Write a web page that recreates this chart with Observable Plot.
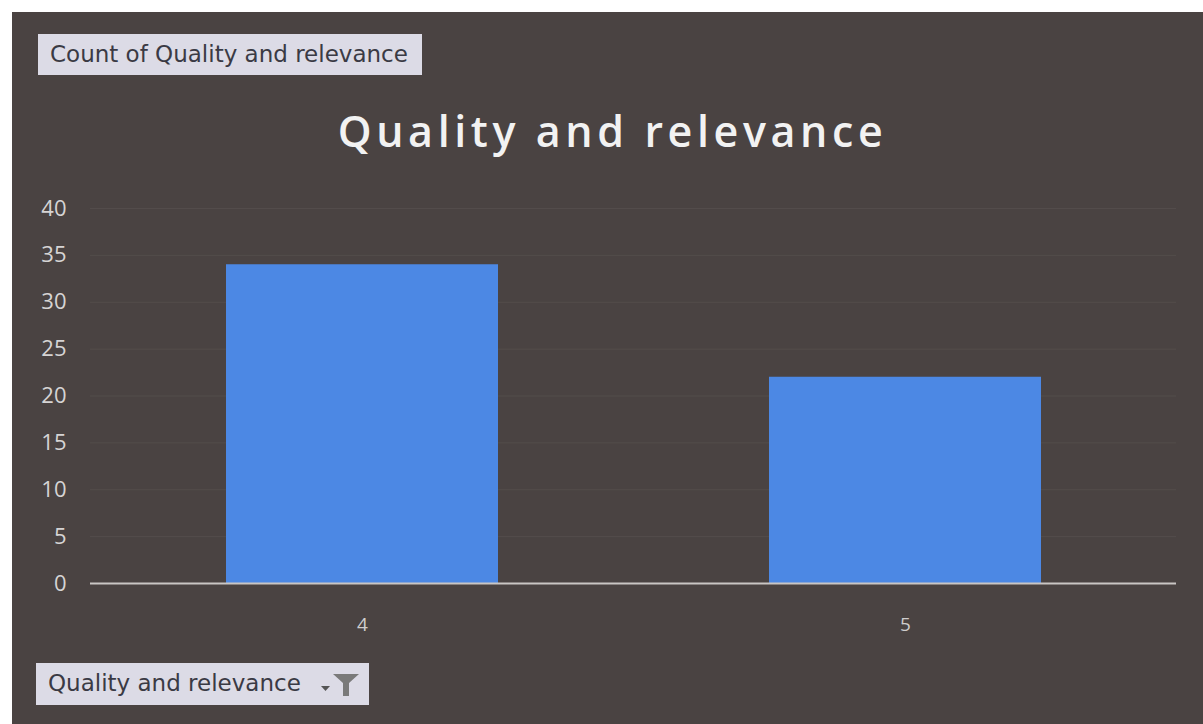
<!DOCTYPE html>
<html>
<head>
<meta charset="utf-8">
<script src="https://cdn.jsdelivr.net/npm/d3@7"></script>
<script src="https://cdn.jsdelivr.net/npm/@observablehq/plot@0.6"></script>
<style>
  html, body { margin: 0; padding: 0; background: #ffffff; }
  body { width: 1203px; height: 724px; position: relative; overflow: hidden; }
  #panel { position: absolute; left: 12px; top: 12px; width: 1191px; height: 712px; background: #4a4342; }
  .btn { position: absolute; background: #dcdbe6; color: #3a3a44; font-family: "DejaVu Sans", sans-serif; font-size: 23px; line-height: 41px; padding: 0 12px; box-sizing: border-box; white-space: nowrap; }
  #btnTop { left: 26px; top: 22px; width: 384px; height: 41px; }
  #btnBottom { left: 24px; top: 651px; width: 333px; height: 42px; }
  #title { position: absolute; left: 11px; top: 101px; width: 1203px; text-align: center; color: #f2f2f2; font-family: "Open Sans", sans-serif; font-weight: 600; font-size: 43px; letter-spacing: 4.6px; }
  #chart { position: absolute; left: 0; top: 0; }
  .funnel { position: absolute; right: 8px; top: 9px; }
</style>
</head>
<body>
<div id="panel">
  <div class="btn" id="btnTop">Count of Quality and relevance</div>
  <div class="btn" id="btnBottom">Quality and relevance
    <svg class="funnel" width="44" height="26" viewBox="0 0 44 26">
      <path d="M4 14 L13 14 L8.5 19 Z" fill="#555"/>
      <path d="M16 2 L42 2 L32 11 L32 24 L26 24 L26 11 Z" fill="#7a7a7a"/>
    </svg>
  </div>
</div>
<div id="title">Quality and relevance</div>
<div id="chart"></div>
<script>
const categories = ["4", "5"];
const counts = [34, 22];
const yTicks = [0, 5, 10, 15, 20, 25, 30, 35, 40];

const data = categories.map((c, i) => ({category: c, count: counts[i]}));

const chart = Plot.plot({
  width: 1203,
  height: 724,
  marginLeft: 90,
  marginRight: 27,
  marginTop: 208,
  marginBottom: 141,
  style: {background: "transparent", fontFamily: "Open Sans, sans-serif"},
  x: {domain: categories, paddingInner: 0.5, paddingOuter: 0.25, label: null},
  y: {domain: [0, 40], ticks: yTicks, label: null},
  marks: [
    Plot.gridY(yTicks, {stroke: "#5f5857", strokeOpacity: 0.45, strokeWidth: 1}),
    Plot.barY(data, {x: "category", y: "count", fill: "#4c88e4"}),
    Plot.ruleY([0], {stroke: "#c9c6c4", strokeWidth: 2}),
    Plot.axisY(yTicks, {tickSize: 0, tickPadding: 24, fontSize: 22, color: "#d6d4d4", label: null}),
    Plot.axisX({tickSize: 0, tickPadding: 34, fontSize: 19, color: "#cfcdcd", label: null})
  ]
});
document.getElementById("chart").appendChild(chart);
</script>
</body>
</html>
